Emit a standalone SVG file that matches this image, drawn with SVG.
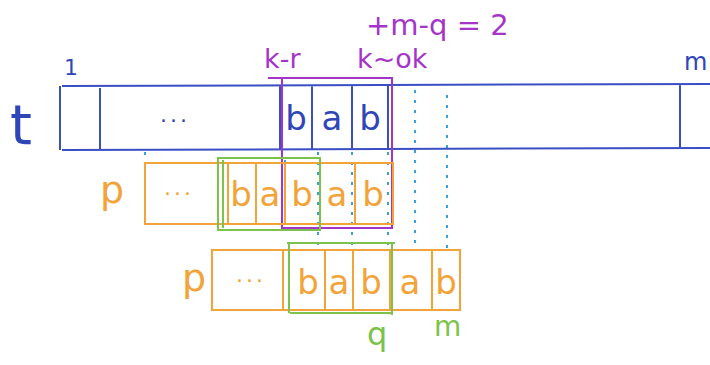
<svg xmlns="http://www.w3.org/2000/svg" width="710" height="365" viewBox="0 0 710 365">
<style>
.bl{stroke:#3a4fc4;fill:none;stroke-width:2}
.or{stroke:#f2a43a;fill:none;stroke-width:2}
.gr{stroke:#7cc24c;fill:none;stroke-width:2}
.pu{stroke:#a534c9;fill:none;stroke-width:2}
.dot{stroke:#3aa0d8;fill:none;stroke-width:2;stroke-dasharray:3 7}
.t{font-family:"DejaVu Sans",sans-serif;font-weight:normal}
.l{font-size:34px;text-anchor:middle}
.d{font-size:22px;letter-spacing:3px}
.tb{fill:#2f46b8}.to{fill:#f2a43a}.tg{fill:#7cc24c}.tp{fill:#a534c9}
</style>
<rect width="710" height="365" fill="#fff"/>
<g id="connectors">
<path class="dot" d="M145,152V166 M318,152V250 M352,152V250 M388,152V250 M415,90V250 M447,95V250 M285,160V230"/>
</g>
<g id="t">
<text class="t tb" x="10" y="144" font-size="56">t</text>
<text class="t tb" x="64" y="75" font-size="22">1</text>
<text class="t tb" x="684" y="70" font-size="24">m</text>
<path class="bl" d="M62,86L710,84 M62,150L710,148 M60,86V150 M100,88V150 M280,86V150 M312,86V150 M352,86V150 M388,86V150 M680,84V148"/>
<text class="t tb d" x="160" y="128">···</text>
<text class="t tb l" x="296" y="130">b</text>
<text class="t tb l" x="332" y="130">a</text>
<text class="t tb l" x="370" y="130">b</text>
</g>
<g id="window">
<path class="pu" d="M268,78H392V228H282V78"/>
<text class="t tp" x="264" y="68" font-size="27">k-r</text>
<text class="t tp" x="357" y="68" font-size="27">k~ok</text>
<text class="t tp" x="366" y="35" font-size="29">+m-q = 2</text>
</g>
<g id="p1">
<text class="t to" x="100" y="203" font-size="38">p</text>
<path class="or" d="M145,163H393V224H145Z M228,163V224 M256,163V224 M285,163V224 M320,163V224 M355,163V224"/>
<text class="t to d" x="164" y="201">···</text>
<text class="t to l" x="241" y="206">b</text>
<text class="t to l" x="270" y="206">a</text>
<text class="t to l" x="302" y="206">b</text>
<text class="t to l" x="337" y="206">a</text>
<text class="t to l" x="373" y="206">b</text>
<path class="gr" d="M218,158H320V230H218Z M223,160V228"/>
</g>
<g id="p2">
<text class="t to" x="182" y="291" font-size="38">p</text>
<path class="or" d="M212,250H460V310H212Z M283,250V310 M325,250V310 M353,250V310 M390,250V310 M432,250V310"/>
<text class="t to d" x="236" y="288">···</text>
<text class="t to l" x="308" y="294">b</text>
<text class="t to l" x="339" y="294">a</text>
<text class="t to l" x="371" y="294">b</text>
<text class="t to l" x="410" y="294">a</text>
<text class="t to l" x="446" y="294">b</text>
<path class="gr" d="M287,243H395 M290,313H393 M289,243V313 M392,243V315"/>
<text class="t tg" x="367" y="345" font-size="32">q</text>
<text class="t tg" x="434" y="336" font-size="28">m</text>
</g>
</svg>
